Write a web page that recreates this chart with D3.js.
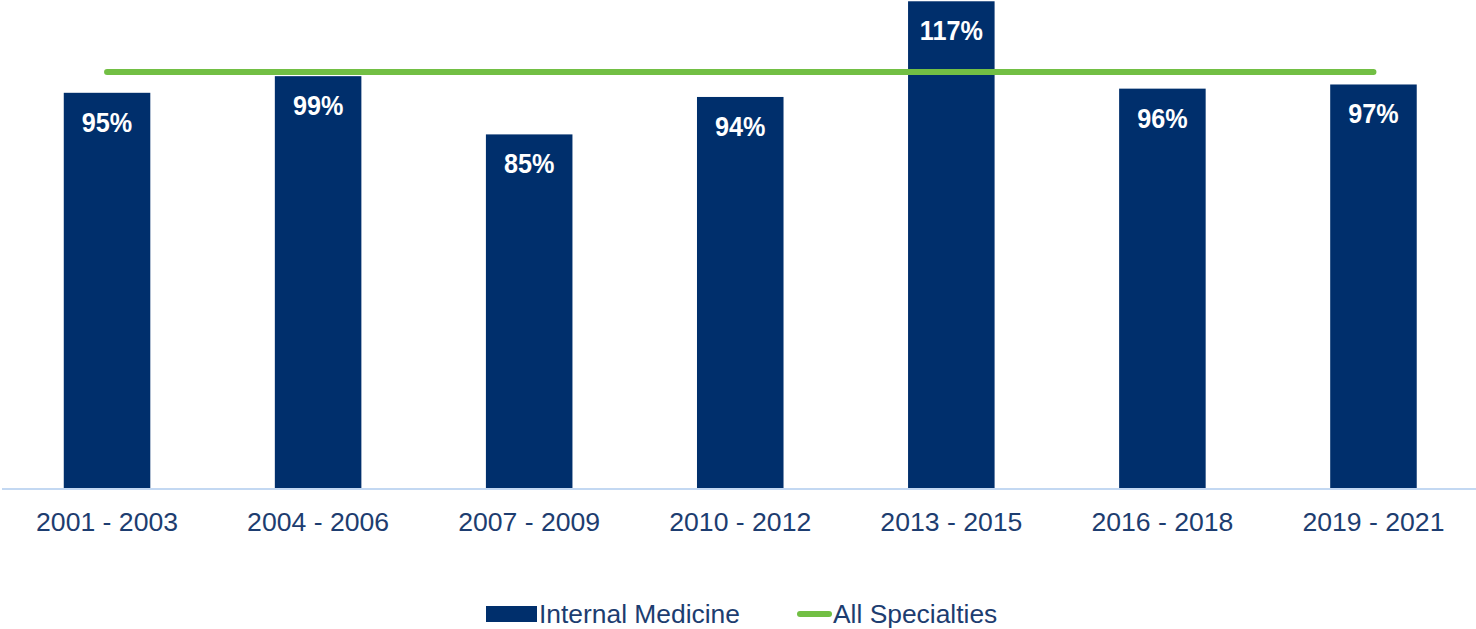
<!DOCTYPE html>
<html>
<head>
<meta charset="utf-8">
<script src="https://cdn.jsdelivr.net/npm/d3@7/dist/d3.min.js"></script>
<style>
  html, body { margin: 0; padding: 0; background: #fff; }
  svg { display: block; font-family: Arial, "Liberation Sans", sans-serif; }
</style>
</head>
<body>
<svg id="chart" width="1476" height="629"></svg>
<script>
// Period categories and series values (percent)
const periods = ["2001 - 2003", "2004 - 2006", "2007 - 2009", "2010 - 2012", "2013 - 2015", "2016 - 2018", "2019 - 2021"];
const internalMedicine = [95, 99, 85, 94, 117, 96, 97];
const allSpecialties = [100, 100, 100, 100, 100, 100, 100];
const legendLabels = ["Internal Medicine", "All Specialties"];

const BAR_COLOR = "#002f6c";
const LINE_COLOR = "#72bf44";
const AXIS_COLOR = "#c3d8f2";
const TEXT_COLOR = "#1d3d70";

const svg = d3.select("#chart");

const baseY = 488;
const pxPerUnit = 4.16;

const x = d3.scaleBand()
  .domain(periods)
  .range([1.5, 1479])
  .paddingInner(0.59)
  .paddingOuter(0.295);

const y = d3.scaleLinear()
  .domain([0, 120])
  .range([baseY, baseY - 120 * pxPerUnit]);

// Bars
svg.append("g")
  .selectAll("rect")
  .data(periods)
  .join("rect")
  .attr("x", d => x(d))
  .attr("y", (d, i) => y(internalMedicine[i]))
  .attr("width", x.bandwidth())
  .attr("height", (d, i) => y(0) - y(internalMedicine[i]))
  .attr("fill", BAR_COLOR);

// Value labels inside the bars
svg.append("g")
  .selectAll("text")
  .data(periods)
  .join("text")
  .attr("transform", (d, i) => `translate(${x(d) + x.bandwidth() / 2},${y(internalMedicine[i]) + 39}) scale(0.9,1)`)
  .attr("text-anchor", "middle")
  .attr("font-size", 28)
  .attr("font-weight", "bold")
  .attr("fill", "#ffffff")
  .text((d, i) => internalMedicine[i] + "%");

// All Specialties line
const line = d3.line()
  .x((d, i) => x(periods[i]) + x.bandwidth() / 2)
  .y(d => y(d));

svg.append("path")
  .datum(allSpecialties)
  .attr("d", line)
  .attr("fill", "none")
  .attr("stroke", LINE_COLOR)
  .attr("stroke-width", 6)
  .attr("stroke-linecap", "round")
  .attr("stroke-linejoin", "round");

// Category axis
const axis = svg.append("g")
  .attr("transform", `translate(0,${baseY + 1})`)
  .call(d3.axisBottom(x).tickSize(0).tickPadding(0));
axis.select(".domain")
  .attr("d", "M2,0H1476")
  .attr("stroke", AXIS_COLOR)
  .attr("stroke-width", 2);
axis.selectAll(".tick text")
  .attr("y", 42)
  .attr("dy", 0)
  .attr("font-size", 26.6)
  .attr("font-family", "Arial, 'Liberation Sans', sans-serif")
  .attr("fill", TEXT_COLOR);

// Legend
const legend = svg.append("g");
legend.append("rect")
  .attr("x", 486).attr("y", 606)
  .attr("width", 51).attr("height", 16)
  .attr("fill", BAR_COLOR);
legend.append("text")
  .attr("x", 539).attr("y", 623)
  .attr("font-size", 26.4)
  .attr("fill", TEXT_COLOR)
  .text(legendLabels[0]);
legend.append("line")
  .attr("x1", 800).attr("x2", 829)
  .attr("y1", 614).attr("y2", 614)
  .attr("stroke", LINE_COLOR)
  .attr("stroke-width", 6)
  .attr("stroke-linecap", "round");
legend.append("text")
  .attr("x", 833).attr("y", 623)
  .attr("font-size", 26.4)
  .attr("fill", TEXT_COLOR)
  .text(legendLabels[1]);
</script>
</body>
</html>
